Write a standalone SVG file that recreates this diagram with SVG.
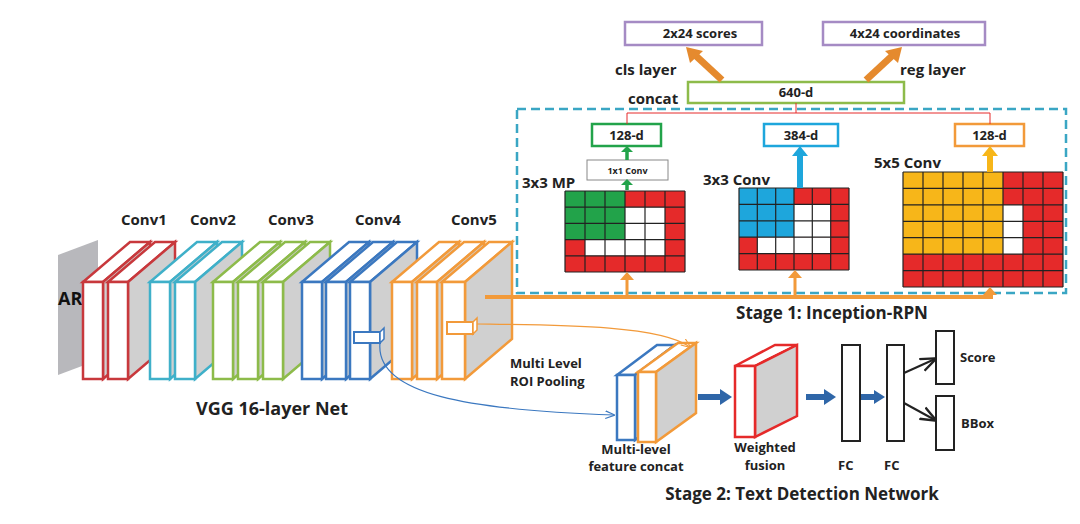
<svg xmlns="http://www.w3.org/2000/svg" width="1080" height="524" viewBox="0 0 1080 524">
<defs>
<style>
text{font-family:"Open Sans","Liberation Sans",sans-serif;font-weight:bold;fill:#222}
.t14{font-size:15px}.t12{font-size:13px}.t16{font-size:17px}.t18{font-size:18px}
.front{fill:#fff;stroke-width:2.5}
.side{fill:#d0d0d0;stroke-width:2.5}
.top{fill:#fff;stroke-width:2.5}
.box{fill:#fff;stroke-width:2.5}
.grid line{stroke:#222;stroke-width:1.2}
</style>
<marker id="ak" viewBox="0 0 10 10" refX="9" refY="5" markerWidth="8" markerHeight="8" orient="auto"><path d="M0,1L10,5L0,9" fill="none" stroke="#222" stroke-width="1.5"/></marker>
<marker id="athin" viewBox="0 0 10 10" refX="9" refY="5" markerWidth="8" markerHeight="8" orient="auto"><path d="M0,1L10,5L0,9" fill="none" stroke="context-stroke" stroke-width="1.2"/></marker>
</defs>
<rect width="1080" height="524" fill="#fff"/>

<g id="input-image">
<polygon points="58,255 98,240 98,360 58,375" fill="#b8b8bc"/>
<text x="58" y="305" style="font-size:18px;fill:#111">AR</text>
</g>

<g id="vgg">
<g stroke="#c8383c">
<polygon class="top" points="83,282 130,242 150,242 103,282"/><polygon class="side" points="103,282 150,242 150,339 103,379"/><rect class="front" x="83" y="282" width="20" height="97"/>
<polygon class="top" points="108,282 155,242 175,242 128,282"/><polygon class="side" points="128,282 175,242 175,339 128,379"/><rect class="front" x="108" y="282" width="20" height="97"/>
</g>
<g stroke="#3fb0c9">
<polygon class="top" points="150,282 197,242 217,242 170,282"/><polygon class="side" points="170,282 217,242 217,339 170,379"/><rect class="front" x="150" y="282" width="20" height="97"/>
<polygon class="top" points="175,282 222,242 242,242 195,282"/><polygon class="side" points="195,282 242,242 242,339 195,379"/><rect class="front" x="175" y="282" width="20" height="97"/>
</g>
<g stroke="#8dbb4a">
<polygon class="top" points="213,282 260,242 280,242 233,282"/><polygon class="side" points="233,282 280,242 280,339 233,379"/><rect class="front" x="213" y="282" width="20" height="97"/>
<polygon class="top" points="238,282 285,242 305,242 258,282"/><polygon class="side" points="258,282 305,242 305,339 258,379"/><rect class="front" x="238" y="282" width="20" height="97"/>
<polygon class="top" points="263,282 310,242 330,242 283,282"/><polygon class="side" points="283,282 330,242 330,339 283,379"/><rect class="front" x="263" y="282" width="20" height="97"/>
</g>
<g stroke="#3b78c0">
<polygon class="top" points="302,282 349,242 369,242 322,282"/><polygon class="side" points="322,282 369,242 369,339 322,379"/><rect class="front" x="302" y="282" width="20" height="97"/>
<polygon class="top" points="326,282 373,242 393,242 346,282"/><polygon class="side" points="346,282 393,242 393,339 346,379"/><rect class="front" x="326" y="282" width="20" height="97"/>
<polygon class="top" points="350,282 397,242 417,242 370,282"/><polygon class="side" points="370,282 417,242 417,339 370,379"/><rect class="front" x="350" y="282" width="20" height="97"/>
<rect x="354" y="332" width="26" height="11" fill="#fff" stroke-width="2"/><polygon points="380,332 384,328 384,339 380,343" fill="#fff" stroke-width="1.5"/>
</g>
<g stroke="#f29a3a">
<polygon class="top" points="392,282 439,242 459,242 412,282"/><polygon class="side" points="412,282 459,242 459,339 412,379"/><rect class="front" x="392" y="282" width="20" height="97"/>
<polygon class="top" points="417,282 464,242 484,242 437,282"/><polygon class="side" points="437,282 484,242 484,339 437,379"/><rect class="front" x="417" y="282" width="20" height="97"/>
<polygon class="top" points="442,282 489,242 512,242 465,282"/><polygon class="side" points="465,282 512,242 512,339 465,379"/><rect class="front" x="442" y="282" width="23" height="97"/>
<rect x="447" y="322" width="26" height="12" fill="#fff" stroke-width="2"/><polygon points="473,322 477,318 477,330 473,334" fill="#fff" stroke-width="1.5"/>
</g>
<text class="t14" x="121" y="225">Conv1</text>
<text class="t14" x="190" y="225">Conv2</text>
<text class="t14" x="268" y="225">Conv3</text>
<text class="t14" x="355" y="225">Conv4</text>
<text class="t14" x="451" y="225">Conv5</text>
<text class="t18" x="272" y="415" text-anchor="middle">VGG 16-layer Net</text>
</g>

<g id="rpn">
<rect x="517" y="109" width="549" height="184" fill="none" stroke="#3aa6c4" stroke-width="2.5" stroke-dasharray="9,5"/>
<g id="grid1" class="grid">
<rect x="565" y="191" width="120" height="81" fill="#e52a2a"/>
<rect x="565" y="191" width="60" height="48.6" fill="#22a34a"/>
<rect x="625" y="207.2" width="40" height="32.4" fill="#fff"/>
<rect x="585" y="239.6" width="80" height="16.2" fill="#fff"/>
<g><line x1="565" y1="191" x2="685" y2="191"/><line x1="565" y1="207.2" x2="685" y2="207.2"/><line x1="565" y1="223.4" x2="685" y2="223.4"/><line x1="565" y1="239.6" x2="685" y2="239.6"/><line x1="565" y1="255.8" x2="685" y2="255.8"/><line x1="565" y1="272" x2="685" y2="272"/>
<line x1="565" y1="191" x2="565" y2="272"/><line x1="585" y1="191" x2="585" y2="272"/><line x1="605" y1="191" x2="605" y2="272"/><line x1="625" y1="191" x2="625" y2="272"/><line x1="645" y1="191" x2="645" y2="272"/><line x1="665" y1="191" x2="665" y2="272"/><line x1="685" y1="191" x2="685" y2="272"/></g>
</g>
<g id="grid2" class="grid">
<rect x="739" y="188" width="110" height="82" fill="#e52a2a"/>
<rect x="739" y="188" width="55" height="49.2" fill="#1ea6dc"/>
<rect x="794" y="204.4" width="36.7" height="32.8" fill="#fff"/>
<rect x="757.3" y="237.2" width="73.3" height="16.4" fill="#fff"/>
<g><line x1="739" y1="188" x2="849" y2="188"/><line x1="739" y1="204.4" x2="849" y2="204.4"/><line x1="739" y1="220.8" x2="849" y2="220.8"/><line x1="739" y1="237.2" x2="849" y2="237.2"/><line x1="739" y1="253.6" x2="849" y2="253.6"/><line x1="739" y1="270" x2="849" y2="270"/>
<line x1="739" y1="188" x2="739" y2="270"/><line x1="757.3" y1="188" x2="757.3" y2="270"/><line x1="775.7" y1="188" x2="775.7" y2="270"/><line x1="794" y1="188" x2="794" y2="270"/><line x1="812.3" y1="188" x2="812.3" y2="270"/><line x1="830.7" y1="188" x2="830.7" y2="270"/><line x1="849" y1="188" x2="849" y2="270"/></g>
</g>
<g id="grid3" class="grid">
<rect x="903" y="172" width="160" height="115" fill="#e52a2a"/>
<rect x="903" y="172" width="100" height="82.1" fill="#f7b619"/>
<rect x="1003" y="204.9" width="20" height="49.2" fill="#fff"/>
<g><line x1="903" y1="172" x2="1063" y2="172"/><line x1="903" y1="188.4" x2="1063" y2="188.4"/><line x1="903" y1="204.9" x2="1063" y2="204.9"/><line x1="903" y1="221.3" x2="1063" y2="221.3"/><line x1="903" y1="237.7" x2="1063" y2="237.7"/><line x1="903" y1="254.1" x2="1063" y2="254.1"/><line x1="903" y1="270.6" x2="1063" y2="270.6"/><line x1="903" y1="287" x2="1063" y2="287"/>
<line x1="903" y1="172" x2="903" y2="287"/><line x1="923" y1="172" x2="923" y2="287"/><line x1="943" y1="172" x2="943" y2="287"/><line x1="963" y1="172" x2="963" y2="287"/><line x1="983" y1="172" x2="983" y2="287"/><line x1="1003" y1="172" x2="1003" y2="287"/><line x1="1023" y1="172" x2="1023" y2="287"/><line x1="1043" y1="172" x2="1043" y2="287"/><line x1="1063" y1="172" x2="1063" y2="287"/></g>
</g>
<text class="t14" x="522" y="188">3x3 MP</text>
<text class="t14" x="703" y="185">3x3 Conv</text>
<text class="t14" x="874" y="168">5x5 Conv</text>
<g id="box128a"><rect class="box" x="592" y="124" width="69" height="22" stroke="#22a34a"/><text class="t12" x="626.5" y="140" text-anchor="middle">128-d</text></g>
<g id="conv1x1"><rect x="587" y="160" width="81" height="20" fill="#fff" stroke="#888" stroke-width="1"/><text x="627.5" y="174" text-anchor="middle" style="font-size:9px">1x1 Conv</text></g>
<g id="box384"><rect class="box" x="764" y="124" width="74" height="22" stroke="#1ea6dc"/><text class="t12" x="801" y="140" text-anchor="middle">384-d</text></g>
<g id="box128b"><rect class="box" x="955" y="124" width="69" height="22" stroke="#f29a3a"/><text class="t12" x="989.5" y="140" text-anchor="middle">128-d</text></g>
<g id="box640"><rect class="box" x="688" y="82" width="216" height="21" stroke="#8dbb4a"/><text class="t12" x="796" y="97" text-anchor="middle">640-d</text></g>
<text class="t14" x="628" y="104">concat</text>
<g id="scores"><rect class="box" x="625" y="22" width="137" height="23" stroke="#a58bc4"/><text class="t12" x="700" y="38" text-anchor="middle">2x24 scores</text></g>
<g id="coords"><rect class="box" x="823" y="22" width="162" height="23" stroke="#a58bc4"/><text class="t12" x="905" y="38" text-anchor="middle">4x24 coordinates</text></g>
<text class="t14" x="615" y="75">cls layer</text>
<text class="t14" x="900" y="75">reg layer</text>
<text class="t16" x="832" y="319" text-anchor="middle">Stage 1: Inception-RPN</text>
</g>

<g id="stage2">
<g id="concatslab">
<g stroke="#3b78c0"><polygon class="top" points="617,375 657,345 675,345 635,375"/><polygon class="side" points="635,375 675,345 675,410 635,440"/><rect class="front" x="617" y="375" width="18" height="65"/></g>
<g stroke="#f29a3a"><polygon class="top" points="638,372 678,343 696,343 656,372"/><polygon class="side" points="656,372 696,343 696,413 656,442"/><rect class="front" x="638" y="372" width="18" height="70"/></g>
</g>
<g id="fusion" stroke="#e52a2a"><polygon class="top" points="735,366 775,345 797,345 755,366"/><polygon class="side" points="755,366 797,345 797,416 755,437"/><rect class="front" x="735" y="366" width="20" height="71"/></g>
<rect id="fc1" x="842" y="345" width="18" height="96" fill="#fff" stroke="#222" stroke-width="2"/>
<rect id="fc2" x="887" y="345" width="17" height="96" fill="#fff" stroke="#222" stroke-width="2"/>
<rect id="score" x="936" y="331" width="18" height="53" fill="#fff" stroke="#222" stroke-width="2"/>
<rect id="bbox" x="936" y="396" width="18" height="54" fill="#fff" stroke="#222" stroke-width="2"/>
<text class="t12" x="960" y="362">Score</text>
<text class="t12" x="961" y="428">BBox</text>
<text class="t12" x="838" y="470">FC</text>
<text class="t12" x="884" y="470">FC</text>
<text class="t12" x="510" y="368">Multi Level</text>
<text class="t12" x="510" y="386">ROI Pooling</text>
<text class="t12" x="636" y="454" text-anchor="middle">Multi-level</text>
<text class="t12" x="636" y="471" text-anchor="middle">feature concat</text>
<text class="t12" x="765" y="452" text-anchor="middle">Weighted</text>
<text class="t12" x="765" y="470" text-anchor="middle">fusion</text>
<text class="t16" x="802" y="500" text-anchor="middle">Stage 2: Text Detection Network</text>
</g>

<g id="connectors" fill="none">
<path d="M485,297H993" stroke="#f29a3a" stroke-width="4"/>
<path d="M627,297V278M795,297V276M990,297V293" stroke="#f29a3a" stroke-width="3"/>
<path d="M620,280L627,272L634,280ZM788,278L795,270L802,278ZM983,295L990,287L997,295Z" fill="#f29a3a"/>
<path d="M627,190V184" stroke="#22a34a" stroke-width="3.5"/><path d="M621,185L627,179L633,185Z" fill="#22a34a"/>
<path d="M627,160V151" stroke="#22a34a" stroke-width="3.5"/><path d="M621,152L627,146L633,152Z" fill="#22a34a"/>
<path d="M800,188V155" stroke="#1ea6dc" stroke-width="6"/><path d="M792,156L800,146L808,156Z" fill="#1ea6dc"/>
<path d="M990,172V155" stroke="#f7b619" stroke-width="6"/><path d="M982,156L990,146L998,156Z" fill="#f7b619"/>
<path d="M796,103V113M627,124V113H990V124" stroke="#e52a2a" stroke-width="1"/>
<path d="M722,80L695,55" stroke="#e58a2e" stroke-width="7"/><path d="M686,47L703,51L690,63Z" fill="#e58a2e"/>
<path d="M866,80L893,55" stroke="#e58a2e" stroke-width="7"/><path d="M902,47L885,51L898,63Z" fill="#e58a2e"/>
<path d="M380,343C375,395 470,410 614,415" stroke="#3b78c0" stroke-width="1.2" marker-end="url(#athin)"/>
<path d="M477,324C560,325 660,325 690,347" stroke="#f29a3a" stroke-width="1.2" marker-end="url(#athin)"/>
<path d="M698,397H722" stroke="#2f66a8" stroke-width="6"/><path d="M720,389L732,397L720,405Z" fill="#2f66a8"/>
<path d="M806,397H826" stroke="#2f66a8" stroke-width="6"/><path d="M824,389L836,397L824,405Z" fill="#2f66a8"/>
<path d="M861,397H876" stroke="#2f66a8" stroke-width="6"/><path d="M874,390L885,397L874,404Z" fill="#2f66a8"/>
<path d="M904,373L935,359" stroke="#222" stroke-width="2" marker-end="url(#ak)"/>
<path d="M904,403L935,420" stroke="#222" stroke-width="2" marker-end="url(#ak)"/>
</g>
</svg>
